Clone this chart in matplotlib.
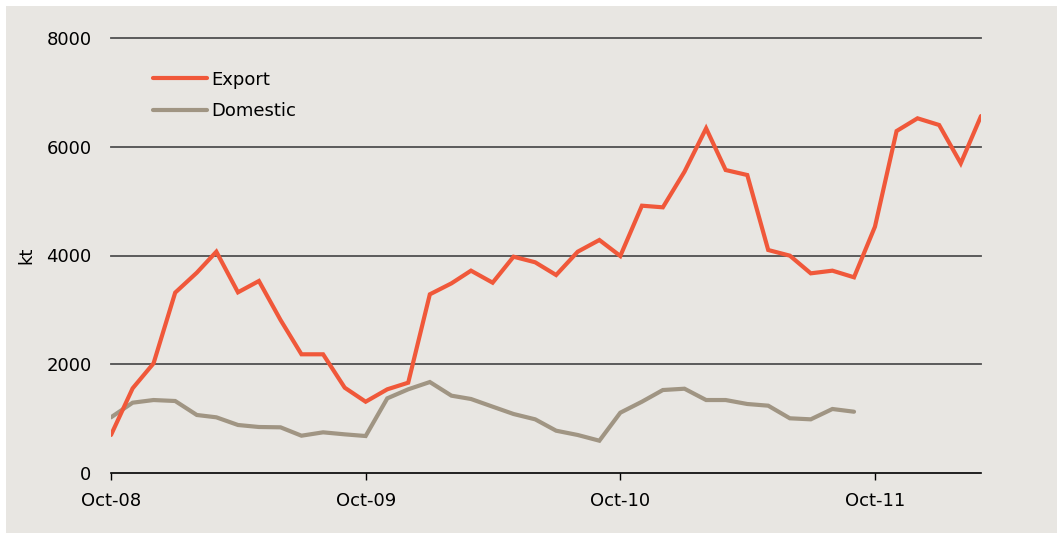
"""
Export vs domestic volumes (kt), monthly Oct-08 to Mar-12.
"""

import matplotlib
matplotlib.use("Agg")
import matplotlib.pyplot as plt
import matplotlib.dates as mdates
import pandas as pd

# ── Data ─────────────────────────────────────────────────────────────────────

export_kt = [
    699, 1557, 2017, 3317, 3684, 4070, 3323, 3531, 2814, 2183, 2183, 1569,
    1311, 1539, 1661, 3286, 3488, 3721, 3500, 3978, 3875, 3641, 4070, 4285,
    3991, 4916, 4886, 5541, 6339, 5572, 5480, 4101, 3997, 3672, 3721, 3599,
    4530, 6289, 6523, 6400, 5695, 6565,
]
domestic_kt = [
    1024, 1293, 1342, 1324, 1067, 1024, 883, 846, 840, 686, 748, 711,
    680, 1373, 1539, 1673, 1422, 1361, 1220, 1085, 987, 778, 699, 594,
    1109, 1311, 1526, 1550, 1342, 1342, 1269, 1238, 1006, 987, 1177, 1127,
]
months_export = pd.date_range("2008-10-01", periods=len(export_kt), freq="MS")
months_domestic = pd.date_range("2008-10-01", periods=len(domestic_kt), freq="MS")
tick_months = pd.to_datetime(["2008-10-01", "2009-10-01", "2010-10-01", "2011-10-01"])
y_ticks = [0, 2000, 4000, 6000, 8000]

EXPORT_COLOR = "#F0583A"
DOMESTIC_COLOR = "#A09583"
BG = "#E8E6E2"

plt.rcParams.update({
    "font.family": "DejaVu Sans",
    "font.size": 13,
})

# ── Figure ───────────────────────────────────────────────────────────────────

fig = plt.figure(figsize=(10.57, 5.33), dpi=100, facecolor=BG)
# thin white margin on the top and left edges
fig.patches.append(plt.Rectangle((0, 0), 6 / 1057, 1, transform=fig.transFigure,
                                 facecolor="white", edgecolor="none", zorder=-1))
fig.patches.append(plt.Rectangle((0, 1 - 6 / 533), 1, 6 / 533, transform=fig.transFigure,
                                 facecolor="white", edgecolor="none", zorder=-1))

ax = fig.add_axes([111 / 1057, 60 / 533, 870 / 1057, 435 / 533])
ax.patch.set_alpha(0)

for y in y_ticks[1:]:
    ax.axhline(y, color="#505050", lw=1.3, zorder=1, clip_on=False)

ax.plot(months_export, export_kt, color=EXPORT_COLOR, lw=3.0,
        solid_capstyle="round", solid_joinstyle="miter", label="Export", zorder=3)
ax.plot(months_domestic, domestic_kt, color=DOMESTIC_COLOR, lw=3.0,
        solid_capstyle="round", solid_joinstyle="miter", label="Domestic", zorder=2)

ax.set_xlim(months_export[0], months_export[-1])
ax.set_ylim(0, 8000)
ax.set_yticks(y_ticks)
ax.set_xticks(tick_months)
ax.xaxis.set_major_formatter(mdates.DateFormatter("%b-%y"))

for side in ("top", "right", "left"):
    ax.spines[side].set_visible(False)
ax.spines["bottom"].set_color("black")
ax.spines["bottom"].set_linewidth(1.2)

ax.tick_params(axis="y", length=0, pad=14)
ax.tick_params(axis="x", direction="out", length=5, width=1, color="black", pad=9)
ax.set_ylabel("kt", labelpad=8)

ax.legend(loc="upper left", bbox_to_anchor=(0.048, 0.925), frameon=False,
          handlelength=3.0, handletextpad=0.25, labelspacing=0.75,
          borderpad=0, borderaxespad=0)

fig.savefig("out.png", dpi=100, facecolor=BG)
